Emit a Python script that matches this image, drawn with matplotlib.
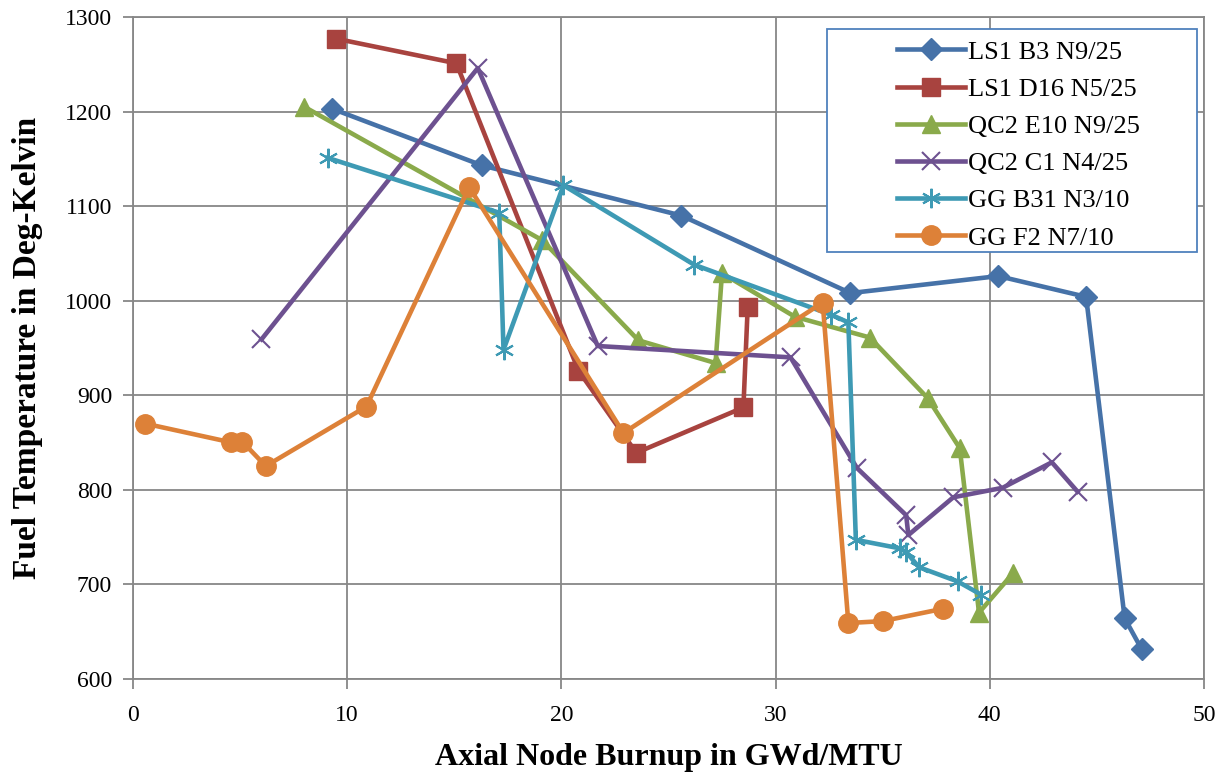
import numpy as np
import matplotlib.pyplot as plt
from matplotlib.patches import Rectangle

plt.rcParams['font.family'] = ['Liberation Serif', 'DejaVu Serif']

# burnup (GWd/MTU) and fuel temperature (K) per rod / node
ls1_b3_x = [9.3, 16.3, 25.6, 33.5, 40.4, 44.5, 46.3, 47.1]
ls1_b3_y = [1203, 1143, 1090, 1008, 1026, 1004, 664, 631]

ls1_d16_x = [9.5, 15.1, 20.8, 23.5, 28.5, 28.7]
ls1_d16_y = [1277, 1251, 926, 839, 887, 993]

qc2_e10_x = [8.0, 19.1, 23.6, 27.2, 27.5, 30.9, 34.4, 37.1, 38.6, 39.5, 41.1]
qc2_e10_y = [1205, 1064, 958, 934, 1029, 983, 961, 897, 844, 670, 712]

qc2_c1_x = [6.0, 16.1, 21.7, 30.7, 33.8, 36.1, 36.2, 38.3, 40.6, 42.9, 44.1]
qc2_c1_y = [959, 1246, 952, 940, 823, 773, 752, 792, 802, 829, 798]

gg_b31_x = [9.1, 17.1, 17.3, 20.1, 26.2, 32.6, 33.4, 33.75, 35.8, 36.1, 36.7, 38.5, 39.6]
gg_b31_y = [1151, 1093, 948, 1122, 1038, 985, 977, 747, 738, 734, 718, 703, 689]

gg_f2_x = [0.56, 4.6, 5.1, 6.2, 10.9, 15.7, 22.9, 32.2, 33.4, 35.0, 37.8]
gg_f2_y = [870, 850, 851, 825, 888, 1120, 860, 998, 659, 661, 674]

series = [
    ('LS1 B3 N9/25', ls1_b3_x, ls1_b3_y, '#4672A8', 'D', 11),
    ('LS1 D16 N5/25', ls1_d16_x, ls1_d16_y, '#A8433F', 's', 12.5),
    ('QC2 E10 N9/25', qc2_e10_x, qc2_e10_y, '#8AAA4B', '^', 13),
    ('QC2 C1 N4/25', qc2_c1_x, qc2_c1_y, '#6D5190', 'x', 13),
    ('GG B31 N3/10', gg_b31_x, gg_b31_y, '#3E9AB4', (6, 2, 0), 14),
    ('GG F2 N7/10', gg_f2_x, gg_f2_y, '#DD8138', 'o', 14),
]

fig = plt.figure(figsize=(12.31, 7.74), dpi=100)
ax = fig.add_axes([0.108, 0.123, 0.870, 0.855])

for label, x, y, c, m, ms in series:
    filled = m != 'x' and not isinstance(m, tuple)
    ax.plot(x, y, color=c, lw=3.3, marker=m, ms=ms,
            markerfacecolor=c if filled else 'none',
            markeredgecolor=c, markeredgewidth=1.0 if filled else 1.5,
            label=label, zorder=3)

ax.set_xlim(0, 50)
ax.set_ylim(600, 1300)
ax.set_xticks(np.arange(0, 51, 10))
ax.set_yticks(np.arange(600, 1301, 100))
ax.grid(True, color='#878787', lw=1.3, zorder=0)
for s in ax.spines.values():
    s.set_color('#878787')
    s.set_linewidth(1.3)
ax.tick_params(axis='both', labelsize=17, color='#878787', length=7, width=1.3)
ax.tick_params(axis='x', pad=12)
ax.tick_params(axis='y', pad=8)

ax.set_xlabel('Axial Node Burnup in GWd/MTU', fontsize=23, fontweight='bold', labelpad=12)
ax.set_ylabel('Fuel Temperature in Deg-Kelvin', fontsize=24, fontweight='bold', labelpad=16)

# legend box with a blue outline, drawn a bit wider than the entries
box = Rectangle((0.648, 0.645), 0.346, 0.337, transform=ax.transAxes,
                facecolor='white', edgecolor='#4F81BD', lw=1.3, zorder=4)
ax.add_patch(box)
leg = ax.legend(loc='upper left', bbox_to_anchor=(0.696, 0.993), fontsize=19,
                frameon=False, handlelength=2.6,
                borderpad=0.2, labelspacing=0.52, handletextpad=0.1)
leg.set_zorder(5)

fig.savefig('out.png', dpi=100)
